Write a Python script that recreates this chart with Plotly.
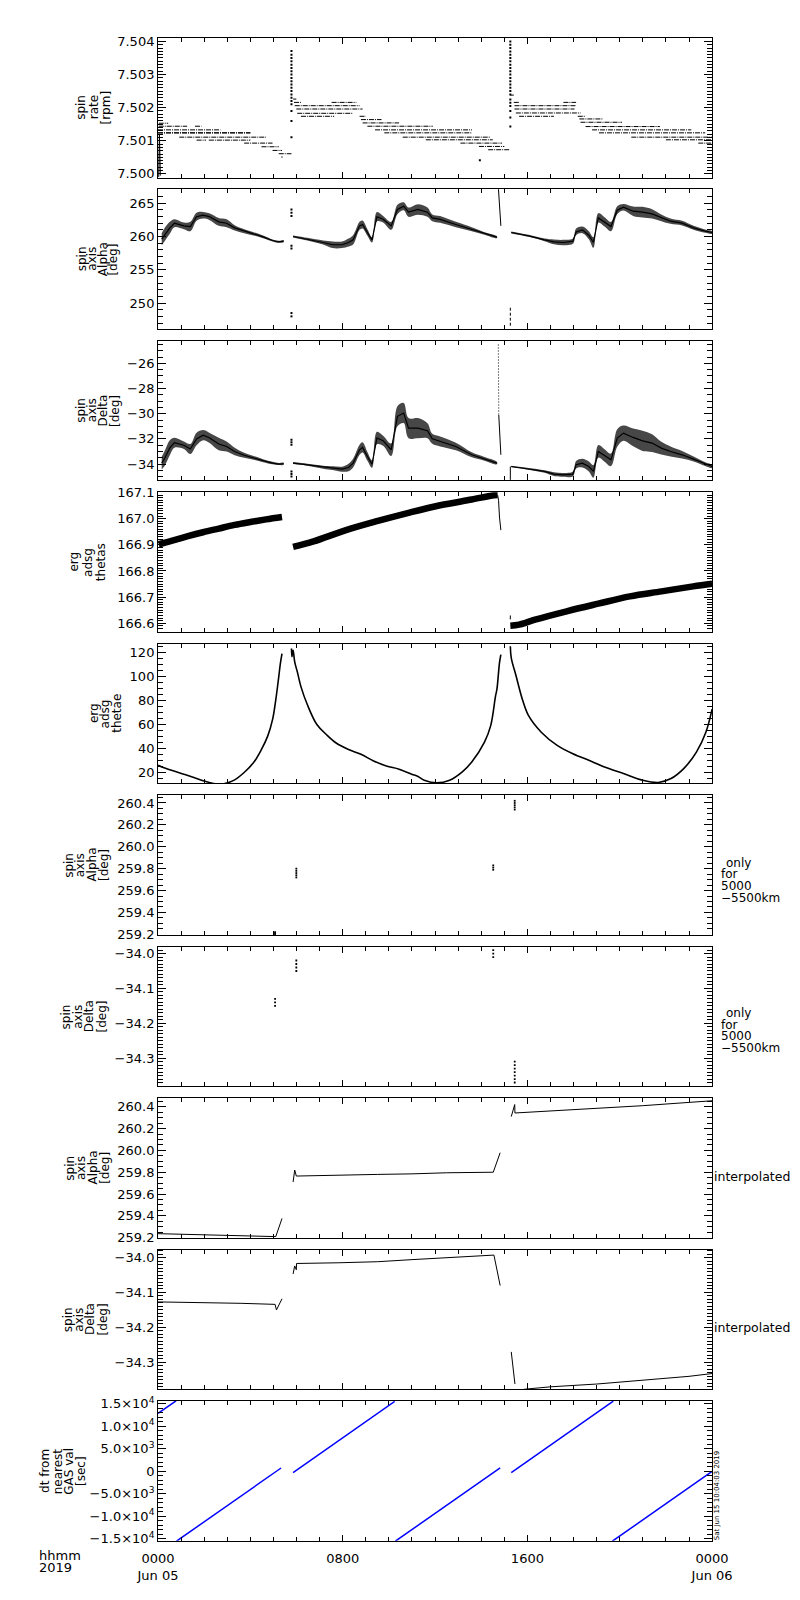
import plotly.graph_objects as go

# ---------------------------------------------------------------
# data (time in hours from 2019-06-05 00:00)
# ---------------------------------------------------------------

# spin rate: quantised levels drawn as short runs  (start, end, level)
rate_t0 = [0.03, 0.03, 1.60, 0.00, 0.00, 0.00, 0.92, 1.67, 2.20, 3.73, 4.48, 4.96, 5.23, 5.34,
           5.85, 5.89, 7.52, 5.92, 5.99, 6.03, 6.19, 8.73, 8.79, 8.86, 9.07, 9.40, 9.80, 10.6, 11.6, 13.1, 13.9, 14.3,
           15.26, 15.41, 15.44, 15.44, 15.50, 15.64, 17.56, 18.18, 18.25, 18.30, 18.52, 18.80, 19.10, 20.50, 22.0, 23.4]
rate_t1 = [0.44, 1.26, 1.88, 2.70, 4.00, 4.00, 4.68, 2.08, 4.00, 4.96, 5.23, 5.37, 5.78, 5.40,
           5.99, 6.19, 8.59, 8.73, 8.86, 8.45, 7.63, 9.00, 9.68, 10.44, 11.9, 13.6, 13.6, 14.4, 14.5, 14.9, 15.0, 15.25,
           15.41, 15.64, 18.11, 18.04, 18.30, 17.15, 18.11, 18.52, 19.27, 20.10, 21.74, 23.10, 23.70, 24.0, 24.0, 24.0]
rate_lv = [7.50153, 7.50144, 7.50144, 7.50133, 7.50124, 7.50124, 7.50111, 7.50102, 7.50102, 7.50093, 7.50082, 7.50071, 7.50061, 7.50051,
           7.50226, 7.50216, 7.50216, 7.50206, 7.50196, 7.50183, 7.50174, 7.50174, 7.50164, 7.50154, 7.50144, 7.50133, 7.50124,
           7.50111, 7.50103, 7.50093, 7.50083, 7.50073,
           7.50238, 7.50216, 7.50206, 7.50196, 7.50184, 7.50174, 7.50216, 7.50174, 7.50166, 7.50156, 7.50143, 7.50133,
           7.50124, 7.50111, 7.50103, 7.50093]
rate_start_t = [0.03, 0.06, 0.10]
rate_start_v = [7.49991, 7.50121, 7.49995]
spike1_v = [7.50111, 7.50160, 7.50190, 7.50210, 7.50220, 7.50230, 7.50240, 7.50250, 7.50260, 7.50270,
            7.50280, 7.50290, 7.50300, 7.50310, 7.50320, 7.50330, 7.50340, 7.50350, 7.50360, 7.50371]
spike2_v = [7.50143, 7.50170, 7.50190, 7.50205, 7.50215, 7.50225, 7.50240, 7.50250, 7.50260, 7.50270, 7.50280,
            7.50290, 7.50300, 7.50310, 7.50320, 7.50330, 7.50340, 7.50350, 7.50360, 7.50370, 7.50380, 7.50390, 7.50400]
spike_t = [5.78, 15.26]
rate_stray_t = [13.94]
rate_stray_v = [7.50041]

# spin axis alpha (scatter band: centre and half width), three pieces
alpha_t = [[0.16, 0.30, 0.51, 0.71, 1.12, 1.40, 1.67, 1.95, 2.22, 2.63, 2.97, 3.32, 3.73, 4.14, 4.55, 4.96, 5.23, 5.44],
           [5.85, 6.47, 7.15, 7.56, 7.97, 8.25, 8.45, 8.73, 8.86, 9.07, 9.27, 9.48, 9.75, 10.10, 10.37, 10.64, 10.85,
            11.26, 11.67, 11.88, 12.22, 12.90, 13.59, 14.14, 14.68],
           [15.30, 16.05, 16.74, 17.15, 17.56, 17.97, 18.11, 18.38, 18.66, 18.86, 19.07, 19.34, 19.62, 19.89, 20.16,
            20.58, 20.99, 21.40, 21.80, 22.20, 22.70, 23.20, 23.70, 24.00]]
alpha_c = [[259.6, 260.35, 261.3, 262.0, 261.6, 261.5, 262.97, 263.2, 263.0, 262.2, 262.0, 261.3, 260.8, 260.4, 259.95,
            259.4, 259.2, 259.3],
           [260.0, 259.6, 259.1, 258.76, 258.76, 259.1, 259.5, 261.6, 261.8, 260.6, 259.5, 262.97, 262.6, 261.6, 264.06,
            264.55, 263.66, 264.06, 263.66, 262.8, 262.57, 261.8, 261.1, 260.45, 259.9],
           [260.6, 260.1, 259.5, 259.2, 259.1, 259.3, 260.7, 261.0, 260.2, 259.1, 262.8, 262.2, 261.5, 263.96, 264.4,
            263.8, 263.66, 263.4, 262.8, 262.3, 262.0, 261.3, 260.8, 260.6]]
alpha_w = [[0.9, 1.0, 0.9, 0.6, 0.5, 0.7, 0.6, 0.5, 0.5, 0.6, 0.6, 0.4, 0.3, 0.25, 0.2, 0.15, 0.15, 0.15],
           [0.15, 0.2, 0.3, 0.5, 0.5, 0.6, 0.7, 0.6, 0.6, 0.5, 0.4, 0.7, 0.5, 0.6, 0.7, 0.6, 0.7, 0.8, 0.7, 0.5, 0.5,
            0.4, 0.3, 0.2, 0.15],
           [0.15, 0.15, 0.2, 0.35, 0.4, 0.4, 0.5, 0.5, 0.6, 0.8, 0.7, 0.7, 0.7, 0.6, 0.5, 0.7, 0.8, 0.7, 0.5, 0.4,
            0.35, 0.3, 0.25, 0.2]]
alpha_dot_t = [5.78, 5.78, 5.78, 5.78, 5.78, 5.78, 5.78]
alpha_dot_v = [264.06, 263.56, 263.07, 258.6, 258.2, 248.5, 248.0]
alpha_jump_t = [14.73, 14.79, 14.85]
alpha_jump_v = [268.0, 264.8, 261.6]
alpha_low_t = [15.26, 15.26]
alpha_low_v = [249.3, 246.5]

# spin axis delta
delta_t = alpha_t
delta_c = [[-33.92, -33.5, -32.7, -32.3, -32.5, -32.8, -32.0, -31.7, -31.9, -32.4, -32.6, -33.0, -33.3, -33.5, -33.73,
            -33.92, -34.0, -33.97],
           [-33.92, -34.05, -34.24, -34.32, -34.4, -34.27, -33.92, -32.86, -32.67, -33.39, -34.0, -31.93, -32.14, -32.86,
            -30.2, -29.94, -31.14, -31.14, -31.35, -31.99, -32.2, -32.6, -33.26, -33.58, -33.92],
           [-34.19, -34.37, -34.58, -34.79, -34.85, -34.79, -34.05, -33.92, -34.19, -34.58, -32.99, -33.31, -33.66,
            -31.93, -31.54, -31.88, -32.15, -32.33, -32.73, -33.0, -33.26, -33.6, -34.0, -34.19]]
delta_w = [[0.5, 0.6, 0.6, 0.4, 0.3, 0.4, 0.5, 0.4, 0.4, 0.5, 0.4, 0.3, 0.2, 0.15, 0.12, 0.1, 0.08, 0.08],
           [0.08, 0.08, 0.12, 0.15, 0.2, 0.3, 0.35, 0.4, 0.4, 0.35, 0.3, 0.5, 0.4, 0.5, 0.8, 0.8, 0.8, 0.8, 0.6, 0.4,
            0.4, 0.3, 0.2, 0.15, 0.1],
           [0.06, 0.07, 0.1, 0.15, 0.15, 0.2, 0.3, 0.35, 0.4, 0.5, 0.5, 0.5, 0.5, 0.7, 0.6, 0.7, 0.8, 0.7, 0.5, 0.4,
            0.3, 0.2, 0.15, 0.12]]
delta_dot_t = [5.78, 5.78, 5.78, 5.78, 5.78, 5.78]
delta_dot_v = [-32.06, -32.26, -32.46, -34.58, -34.78, -34.98]
delta_jump_dot_t = [14.74, 14.76]
delta_jump_dot_v = [-24.5, -30.1]
delta_jump_t = [14.76, 14.79, 14.85]
delta_jump_v = [-30.1, -31.4, -33.26]
delta_low_t = [15.26, 15.26]
delta_low_v = [-34.19, -35.25]

# erg adsg thetas
thetas_t = [[0.03, 0.58, 1.26, 1.95, 2.63, 3.32, 4.00, 4.68, 5.37],
            [5.85, 6.74, 8.11, 9.48, 10.85, 12.22, 13.59, 14.55, 14.71],
            [15.26, 15.64, 16.33, 17.70, 19.07, 20.44, 21.81, 23.18, 24.00]]
thetas_v = [[166.902, 166.915, 166.932, 166.948, 166.962, 166.976, 166.987, 166.997, 167.006],
            [166.892, 166.913, 166.955, 166.990, 167.022, 167.051, 167.073, 167.089, 167.090],
            [166.591, 166.595, 166.614, 166.646, 166.675, 166.703, 166.722, 166.741, 166.751]]
thetas_drop_t = [14.71, 14.75, 14.79, 14.85]
thetas_drop_v = [167.090, 167.070, 167.006, 166.956]
thetas_mark_t = [15.26, 15.26]
thetas_mark_v = [166.630, 166.615]

# erg adsg thetae
thetae_t = [[0.00, 0.16, 0.58, 1.12, 1.67, 2.22, 2.49, 2.90, 3.32, 3.73, 4.14, 4.48, 4.75, 4.96, 5.10, 5.23, 5.30, 5.37],
            [5.78, 5.80, 5.85, 5.92, 6.05, 6.19, 6.47, 6.88, 7.29, 7.70, 8.25, 8.79, 9.34, 9.89, 10.44, 10.99, 11.26,
             11.53, 12.08, 12.63, 13.18, 13.59, 14.14, 14.41, 14.62, 14.68, 14.79, 14.85],
            [15.26, 15.30, 15.51, 15.78, 16.05, 16.60, 17.29, 17.97, 18.66, 19.34, 20.16, 20.99, 21.67, 22.22, 22.77,
             23.32, 23.73, 24.00]]
thetae_v = [[26.0, 24.7, 21.9, 18.6, 15.0, 11.7, 10.6, 10.9, 13.9, 20.0, 28.3, 39.3, 50.4, 64.2, 80.8, 100.1, 111.2,
             119.4],
            [123.6, 116.7, 122.2, 112.5, 102.9, 91.8, 76.6, 60.1, 51.8, 44.9, 39.3, 35.2, 29.7, 25.5, 22.8, 18.6, 16.7,
             13.6, 11.4, 13.6, 20.6, 28.8, 45.4, 59.2, 84.0, 89.6, 111.7, 118.6],
            [125.5, 115.9, 100.7, 81.3, 67.5, 53.7, 42.7, 35.7, 30.2, 24.7, 19.2, 13.6, 11.7, 15.0, 23.3, 37.1, 53.7,
             73.0]]

# spin axis alpha / delta, only for 5000-5500 km
alpha_r_t = [5.07, 5.07, 5.07, 5.99, 5.99, 5.99, 5.99, 5.99, 14.52, 14.52, 14.52, 15.45, 15.45, 15.45, 15.45, 15.45]
alpha_r_v = [259.22, 259.21, 259.20, 259.80, 259.78, 259.76, 259.74, 259.72, 259.83, 259.81, 259.79,
             260.42, 260.40, 260.38, 260.36, 260.34]
delta_r_t = [5.07, 5.07, 5.07, 5.99, 5.99, 5.99, 5.99, 14.52, 14.52, 14.52,
             15.45, 15.45, 15.45, 15.45, 15.45, 15.45, 15.45]
delta_r_v = [-34.13, -34.14, -34.15, -34.02, -34.03, -34.04, -34.05, -33.99, -34.00, -34.01,
             -34.31, -34.32, -34.33, -34.34, -34.35, -34.36, -34.37]

# spin axis alpha / delta, interpolated
alpha_i_t = [[0.00, 0.90, 1.80, 2.80, 3.70, 4.60, 5.10, 5.37],
             [5.85, 5.92, 5.99, 6.90, 8.00, 9.50, 11.0, 12.5, 14.52, 14.82],
             [15.30, 15.45, 15.46, 17.0, 19.0, 21.0, 23.0, 24.0]]
alpha_i_v = [[259.237, 259.232, 259.228, 259.222, 259.215, 259.210, 259.210, 259.376],
             [259.710, 259.820, 259.765, 259.770, 259.775, 259.780, 259.785, 259.795, 259.800, 259.979],
             [260.310, 260.420, 260.343, 260.360, 260.385, 260.410, 260.440, 260.455]]
delta_i_t = [[0.00, 1.80, 3.60, 5.07, 5.13, 5.37],
             [5.85, 5.92, 5.99, 6.00, 7.80, 9.50, 11.0, 12.8, 14.55, 14.82],
             [15.30, 15.45, 15.46],
             [15.85, 17.0, 19.0, 21.0, 23.0, 24.0]]
delta_i_v = [[-34.127, -34.128, -34.131, -34.134, -34.150, -34.118],
             [-34.047, -34.024, -34.035, -34.017, -34.015, -34.012, -34.006, -34.000, -33.993, -34.080],
             [-34.270, -34.350, -34.362],
             [-34.377, -34.370, -34.362, -34.352, -34.340, -34.332]]

# dt from nearest GAS value [sec]
dt_t = [[0.00, 0.78], [0.80, 5.33], [5.85, 10.25], [10.28, 14.82], [15.30, 19.72], [19.68, 24.00]]
dt_v = [[12870, 15678], [-15600, 708], [-300, 15540], [-15600, 744], [-300, 15612], [-15600, -48]]

y_titles = [["spin", "rate", "[rpm]"],
            ["spin", "axis", "Alpha", "[deg]"],
            ["spin", "axis", "Delta", "[deg]"],
            ["erg", "adsg", "thetas"],
            ["erg", "adsg", "thetae"],
            ["spin", "axis", "Alpha", "[deg]"],
            ["spin", "axis", "Delta", "[deg]"],
            ["spin", "axis", "Alpha", "[deg]"],
            ["spin", "axis", "Delta", "[deg]"],
            ["dt from", "nearest", "GAS val", "[sec]"]]

dt_tickvals = [-15000, -10000, -5000, 0, 5000, 10000, 15000]
dt_ticktext = ["−1.5×10<sup>4</sup>", "−1.0×10<sup>4</sup>", "−5.0×10<sup>3</sup>", "0",
               "5.0×10<sup>3</sup>", "1.0×10<sup>4</sup>", "1.5×10<sup>4</sup>"]

# ---------------------------------------------------------------
W, H = 800, 1600
FONT = "DejaVu Sans"
BLACK = "black"

# per panel: range, dtick, minor dtick, tick0, format
yaxes_cfg = [
    ([7.49989, 7.50411], 0.001, 0.0001, 7.5, ".3f"),
    ([246.1, 267.1], 5, 1, 0, "d"),
    ([-35.3, -24.2], 2, 0.5, 0, "d"),
    ([166.567, 167.101], 0.1, 0.01, 166.6, ".1f"),
    ([10.9, 127.7], 20, 5, 0, "d"),
    ([259.195, 260.472], 0.2, 0.05, 259.2, ".1f"),
    ([-34.381, -33.98], 0.1, 0.01, -34.0, ".1f"),
    ([259.199, 260.48], 0.2, 0.05, 259.2, ".1f"),
    ([-34.377, -33.977], 0.1, 0.01, -34.0, ".1f"),
    ([-15500, 15650], None, 1000, 0, None),
]
# title line positions (px) for each panel
title_x = [[55, 68, 81], [56, 67, 78, 89], [54, 66, 78, 90], [48, 62, 76], [68, 80, 92],
           [42, 54, 66, 79], [40, 52, 64, 77], [43, 55, 67, 80], [42, 53, 65, 78], [17, 30, 42, 55]]

fig = go.Figure()

panel_top = [23 + i * 152.8 for i in range(10)]
panel_h = 141


def px(x):
    return x / W


def py(y):
    return 1 - y / H


def ax(i):
    return ("x" if i == 0 else f"x{i + 1}"), ("y" if i == 0 else f"y{i + 1}")


def line(i, x, y, width=1, color=BLACK, dash="solid", shape="linear"):
    xa, ya = ax(i)
    fig.add_trace(go.Scatter(x=x, y=y, mode="lines", xaxis=xa, yaxis=ya,
                             line=dict(color=color, width=width, dash=dash, shape=shape),
                             showlegend=False, hoverinfo="skip"))


def dots(i, x, y, size=2):
    xa, ya = ax(i)
    fig.add_trace(go.Scatter(x=x, y=y, mode="markers", xaxis=xa, yaxis=ya,
                             marker=dict(color=BLACK, size=size, symbol="square", line=dict(width=0)),
                             showlegend=False, hoverinfo="skip"))


def band(i, ts, cs, ws):
    xa, ya = ax(i)
    for t, c, w in zip(ts, cs, ws):
        upper = [a + b for a, b in zip(c, w)]
        lower = [a - b for a, b in zip(c, w)]
        fig.add_trace(go.Scatter(x=t + t[::-1], y=upper + lower[::-1], mode="lines", fill="toself",
                                 fillcolor="rgba(0,0,0,0.72)", line=dict(width=0, shape="spline"),
                                 xaxis=xa, yaxis=ya, showlegend=False, hoverinfo="skip"))
        line(i, t, c, width=1.2)


# panel 1: spin rate
xs, ys = [], []
for a, b, v in zip(rate_t0, rate_t1, rate_lv):
    xs += [a, b, None]
    ys += [v, v, None]
line(0, xs, ys, width=1, dash="5px,1px,1px,1px")
line(0, rate_start_t, rate_start_v, width=1)
dots(0, [spike_t[0]] * len(spike1_v), spike1_v)
dots(0, [spike_t[1]] * len(spike2_v), spike2_v)
dots(0, rate_stray_t, rate_stray_v)

# panel 2: alpha
band(1, alpha_t, alpha_c, alpha_w)
dots(1, alpha_dot_t, alpha_dot_v)
line(1, alpha_jump_t, alpha_jump_v)
line(1, alpha_low_t, alpha_low_v, dash="3px,2px")

# panel 3: delta
band(2, delta_t, delta_c, delta_w)
dots(2, delta_dot_t, delta_dot_v)
line(2, delta_jump_dot_t, delta_jump_dot_v, dash="1px,2px")
line(2, delta_jump_t, delta_jump_v)
line(2, delta_low_t, delta_low_v)

# panel 4: thetas
for t, v in zip(thetas_t, thetas_v):
    line(3, t, v, width=6.5, shape="spline")
line(3, thetas_drop_t, thetas_drop_v)
line(3, thetas_mark_t, thetas_mark_v)

# panel 5: thetae
for t, v in zip(thetae_t, thetae_v):
    line(4, t, v, width=1.6, shape="spline")

# panels 6, 7
dots(5, alpha_r_t, alpha_r_v, size=1.8)
dots(6, delta_r_t, delta_r_v, size=1.8)

# panels 8, 9
for t, v in zip(alpha_i_t, alpha_i_v):
    line(7, t, v)
for t, v in zip(delta_i_t, delta_i_v):
    line(8, t, v)

# panel 10
for t, v in zip(dt_t, dt_v):
    line(9, t, v, width=1.5, color="#0000ff")

# axes
tickfont = dict(family=FONT, size=13, color=BLACK)
for i in range(10):
    top = panel_top[i]
    bot = top + panel_h
    rng, dtick, mdtick, tick0, fmt = yaxes_cfg[i]
    xkey = "xaxis" if i == 0 else f"xaxis{i + 1}"
    ykey = "yaxis" if i == 0 else f"yaxis{i + 1}"
    xa, ya = ax(i)
    last = i == 9
    xaxis = dict(domain=[px(136), px(720)], anchor=ya, range=[0, 24], showgrid=False, zeroline=False,
                 showline=True, linecolor=BLACK, linewidth=1, mirror="ticks", ticks="inside",
                 ticklen=6, tickwidth=1, tickcolor=BLACK, tickmode="array", tickvals=[0, 8, 16, 24],
                 ticktext=["0000<br>Jun 05", "0800", "1600", "0000<br>Jun 06"], showticklabels=last,
                 tickfont=tickfont, ticklabelstandoff=6,
                 minor=dict(ticks="inside", tickmode="linear", tick0=0, dtick=1, ticklen=4, tickcolor=BLACK))
    if i > 0:
        xaxis["matches"] = "x"
    yaxis = dict(domain=[py(bot), py(top)], anchor=xa, range=rng, showgrid=False, zeroline=False,
                 showline=True, linecolor=BLACK, linewidth=1, mirror="ticks", ticks="inside",
                 ticklen=8, tickwidth=1, tickcolor=BLACK, tickfont=tickfont,
                 minor=dict(ticks="inside", tickmode="linear", tick0=tick0, dtick=mdtick, ticklen=5,
                            tickcolor=BLACK))
    if dtick is None:
        yaxis.update(tickmode="array", tickvals=dt_tickvals, ticktext=dt_ticktext)
    else:
        yaxis.update(tickmode="linear", tick0=tick0, dtick=dtick, tickformat=fmt)
    fig.update_layout({xkey: xaxis, ykey: yaxis})

annotations = []
for i in range(10):
    yc = panel_top[i] + panel_h / 2
    for txt, xc in zip(y_titles[i], title_x[i]):
        annotations.append(dict(text=txt, x=px(xc), y=py(yc), xref="paper", yref="paper", showarrow=False,
                                textangle=-90, xanchor="center", yanchor="middle",
                                font=dict(family=FONT, size=12, color=BLACK)))

side_font = dict(family=FONT, size=12, color=BLACK)
for yc0 in (855, 1006.7):
    for k, (txt, xl) in enumerate(zip(["only", "for", "5000", "−5500km"], [733, 727, 727, 727])):
        annotations.append(dict(text=txt, x=px(xl), y=py(yc0 + k * 11.8), xref="paper", yref="paper",
                                showarrow=False, xanchor="left", yanchor="middle", font=side_font))
for yc0 in (1171.7, 1324.3):
    annotations.append(dict(text="interpolated", x=px(720), y=py(yc0), xref="paper", yref="paper",
                            showarrow=False, xanchor="left", yanchor="middle",
                            font=dict(family=FONT, size=12.5, color=BLACK)))

annotations.append(dict(text="hhmm", x=px(8), y=py(1554), xref="paper", yref="paper", showarrow=False,
                        xanchor="left", yanchor="middle", font=dict(family=FONT, size=13, color=BLACK)))
annotations.append(dict(text="2019", x=px(8), y=py(1566), xref="paper", yref="paper", showarrow=False,
                        xanchor="left", yanchor="middle", font=dict(family=FONT, size=13, color=BLACK)))
annotations.append(dict(text="Sat Jun 15 10:04:03 2019", x=px(725.5), y=py(1494), xref="paper", yref="paper",
                        showarrow=False, textangle=-90, xanchor="center", yanchor="middle",
                        font=dict(family=FONT, size=7, color=BLACK)))

fig.update_layout(width=W, height=H, margin=dict(l=0, r=0, t=0, b=0), paper_bgcolor="white",
                  plot_bgcolor="white", showlegend=False, annotations=annotations,
                  font=dict(family=FONT, color=BLACK))

fig.write_html("out.html")
